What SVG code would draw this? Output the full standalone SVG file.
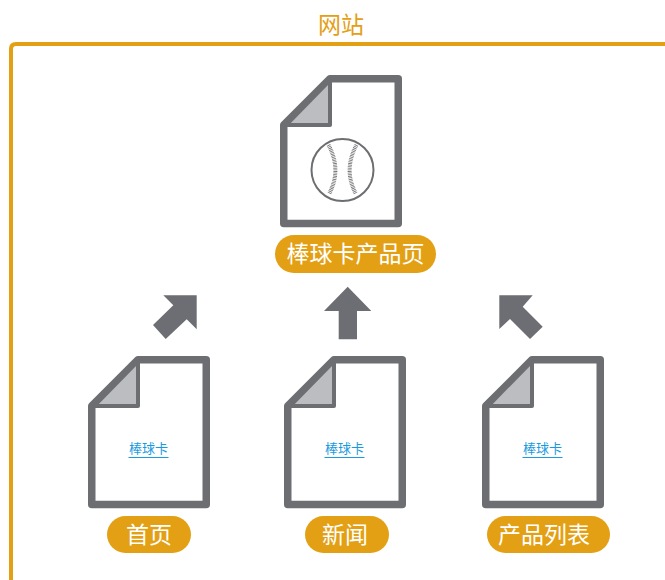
<svg xmlns="http://www.w3.org/2000/svg" width="665" height="580" viewBox="0 0 665 580">
<style>
text{font-family:"Noto Sans CJK SC","Noto Sans",sans-serif;text-anchor:middle}
.frame{fill:none;stroke:#e3a014;stroke-width:4}
.title{fill:#e3a014;font-size:23px}
.pill{fill:#e3a014}
.plabel{fill:#fff;font-size:23px}
.page{fill:#fff;stroke:#6d6e71;stroke-width:7.5;stroke-linejoin:round}
.fold{fill:#bcbdc1;stroke:#6d6e71;stroke-width:4;stroke-linejoin:round}
.arrow{fill:#6d6e73}
.link{fill:#1a9be0;font-size:13px}
.uline{stroke:#1a9be0;stroke-width:1}
.seam{fill:none;stroke:#6d6e71;stroke-width:4;stroke-dasharray:.8 .8}
</style>
<defs>
<g id="doc">
<path class="page" d="M50 3.75H118.25V148.5H3.75V50Z"/>
<path class="fold" d="M50 5V50H6Z"/>
</g>
</defs>
<rect width="665" height="580" fill="#fff"/>
<g id="site">
<path class="frame" d="M667 44H16Q11 44 11 49V582"/>
<text class="title" x="341" y="33">网站</text>
</g>
<g id="connectors">
<polygon class="arrow" points="163.3,295.3 196.7,295.3 196.7,329.3 186.7,319.3 165.7,339 153,325 173.3,305.3"/>
<polygon class="arrow" points="347.7,286.7 371.3,311 357,311 357,339.3 338.7,339.3 338.7,311 324,311"/>
<polygon class="arrow" points="499.3,295.3 532.7,295.3 522.7,306.7 542.7,326.7 530,339 510,319 499.3,329"/>
</g>
<g id="product">
<use href="#doc" x="280" y="75"/>
<circle cx="342.500" cy="170" r="31" fill="#fff" stroke="#6d6e71" stroke-width="2"/>
<path class="seam" d="M328.500 145Q342 170 329 194"/>
<path class="seam" d="M356.500 145Q343 170 356 194"/>
<rect class="pill" x="275" y="235" width="161" height="38" rx="19"/>
<text class="plabel" x="355.500" y="262">棒球卡产品页</text>
</g>
<g id="home">
<use href="#doc" x="88" y="356"/>
<text class="link" x="148.500" y="452.500">棒球卡</text>
<line class="uline" x1="128.500" y1="457.500" x2="168.500" y2="457.500"/>
<rect class="pill" x="107" y="516" width="84" height="37" rx="18.500"/>
<text class="plabel" x="149" y="543">首页</text>
</g>
<g id="news">
<use href="#doc" x="284" y="356"/>
<text class="link" x="344.500" y="452.500">棒球卡</text>
<line class="uline" x1="324.500" y1="457.500" x2="364.500" y2="457.500"/>
<rect class="pill" x="305" y="516" width="84" height="37" rx="18.500"/>
<text class="plabel" x="345" y="543">新闻</text>
</g>
<g id="products">
<use href="#doc" x="482" y="356"/>
<text class="link" x="542.500" y="452.500">棒球卡</text>
<line class="uline" x1="522.500" y1="457.500" x2="562.500" y2="457.500"/>
<rect class="pill" x="487" y="516" width="123" height="37" rx="18.500"/>
<text class="plabel" x="544" y="543">产品列表</text>
</g>
</svg>
